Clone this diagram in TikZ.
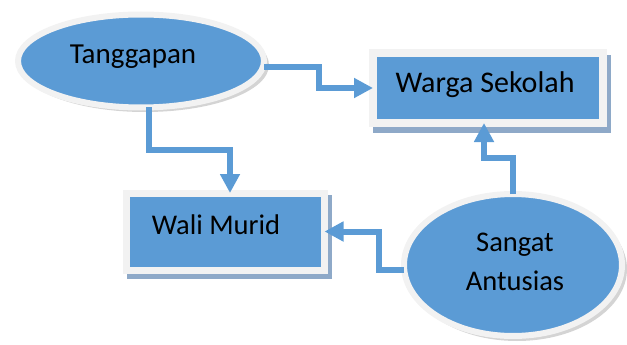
\documentclass[tikz,border=0pt]{standalone}
\usepackage{fontspec}
\setmainfont{Carlito}
\usetikzlibrary{shapes.geometric,arrows.meta}
\definecolor{boxblue}{HTML}{5B9BD5}
\definecolor{rimwhite}{HTML}{F2F2F2}
\definecolor{boxshadow}{HTML}{8EA9C8}
\definecolor{ellshadow}{HTML}{D4D4D4}
\tikzset{
  ellnode/.style={ellipse, fill=boxblue, draw=rimwhite, line width=6pt, inner sep=0pt, outer sep=0pt},
  recnode/.style={rectangle, fill=boxblue, draw=rimwhite, line width=8pt, inner sep=0pt, outer sep=0pt},
  lbl/.style={inner sep=0pt, text=black, align=center},
  arr/.style={draw=boxblue, line width=6pt, line join=miter, -{Triangle[width=19pt,length=19pt]}}
}
\begin{document}
\begin{tikzpicture}[x=1pt,y=-1pt]
\useasboundingbox (0,0) rectangle (627,345);
% shadows
\fill[ellshadow] (145,65) ellipse [x radius=124, y radius=47];
\fill[ellshadow] (517,269) ellipse [x radius=110, y radius=72];
\fill[boxshadow] (373,55) rectangle (611,133);
\fill[boxshadow] (127,195) rectangle (332,279);
% nodes
\node[ellnode, minimum width=246pt, minimum height=93pt] (tang) at (141,61) {};
\node[recnode, minimum width=230pt, minimum height=70pt] (ws) at (488,88) {};
\node[recnode, line width=7pt, minimum width=198pt, minimum height=77pt] (wm) at (225.5,231.5) {};
\node[ellnode, minimum width=218pt, minimum height=142pt] (sa) at (513,265) {};
% labels
\node[lbl, font=\fontsize{29}{35}\selectfont] (tangt) at (133,57) {Tanggapan};
\node[lbl, font=\fontsize{30}{36}\selectfont] (wst) at (485,85) {Warga Sekolah};
\node[lbl, font=\fontsize{28.5}{34}\selectfont] (wmt) at (216,225) {Wali Murid};
\node[lbl, font=\fontsize{28.5}{39}\selectfont] (sat) at (515,262) {Sangat\\Antusias};
% connectors
\draw[arr] ([yshift=-6pt]tang.east) -| (319,88) -- (ws.west);
\draw[arr] ([xshift=8pt]tang.south) -- (149,150) -| ([xshift=4.5pt]wm.north);
\draw[arr] (sa.north) -- (513,158) -| ([xshift=-4pt]ws.south);
\draw[arr] ([yshift=-5pt]sa.west) -| (379,231.5) -- (wm.east);
\end{tikzpicture}
\end{document}
